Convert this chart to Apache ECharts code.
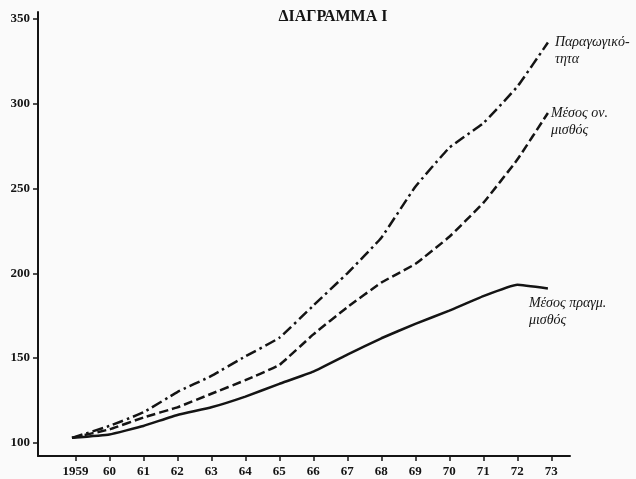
<!DOCTYPE html>
<html>
<head>
<meta charset="utf-8">
<script src="https://cdn.jsdelivr.net/npm/echarts@6/dist/echarts.min.js"></script>
<style>
  html, body { margin: 0; padding: 0; background: #fafafa; }
  #main { width: 636px; height: 479px; }
</style>
</head>
<body>
<div id="main"></div>
<script>
// data (index, 1959 ~ 103)
var years = [1958.9, 1960, 1961, 1962, 1963, 1964, 1965, 1966, 1967, 1968, 1969, 1970, 1971, 1972, 1972.9];
var productivity = [103, 110, 118, 130, 139.5, 151, 162, 181, 200, 221, 251, 274, 288.5, 310, 336];
var nominalWage = [103, 108, 115, 121, 129, 137, 146, 164, 180, 194.5, 205.5, 221.5, 241.5, 267, 294.5];
var realWage = [103, 105, 110, 116.5, 121, 127.3, 134.8, 142, 152, 161.7, 170.2, 178, 186.5, 193.2, 191];

var xTicks = [1959, 1960, 1961, 1962, 1963, 1964, 1965, 1966, 1967, 1968, 1969, 1970, 1971, 1972, 1973];
var yTicks = [100, 150, 200, 250, 300, 350];

var seriesNames = ['Παραγωγικό-\nτητα', 'Μέσος ον.\nμισθός', 'Μέσος πραγμ.\nμισθός'];

var font = '"Liberation Serif", "DejaVu Serif", serif';
var ink = '#141414';

function pairs(vals) {
  return years.map(function (y, i) { return [y, vals[i]]; });
}

var myChart = echarts.init(document.getElementById('main'));

var option = {
  backgroundColor: '#fafafa',
  animation: false,
  title: {
    text: 'ΔΙΑΓΡΑΜΜΑ Ι',
    left: 328,
    top: 4,
    textAlign: 'center',
    textStyle: { fontFamily: font, fontSize: 16, fontWeight: 'bold', color: ink }
  },
  grid: { left: 38, right: 66, top: 12, bottom: 23 },
  xAxis: {
    type: 'value',
    min: 1957.9,
    max: 1973.55,
    axisLine: { lineStyle: { color: ink, width: 2 } },
    axisTick: { show: true, customValues: xTicks, length: 5, lineStyle: { color: ink, width: 1.5 } },
    axisLabel: {
      customValues: xTicks,
      margin: 9,
      fontFamily: font,
      fontSize: 13,
      fontWeight: 'bold',
      color: ink,
      formatter: function (v) { return v === 1959 ? '1959' : String(v).slice(2); }
    },
    splitLine: { show: false }
  },
  yAxis: {
    type: 'value',
    min: 92.3,
    max: 354,
    axisLine: { show: true, lineStyle: { color: ink, width: 2 } },
    axisTick: { show: true, customValues: yTicks, length: 5, lineStyle: { color: ink, width: 1.5 } },
    axisLabel: {
      customValues: yTicks,
      margin: 8,
      fontFamily: font,
      fontSize: 13,
      fontWeight: 'bold',
      color: ink
    },
    splitLine: { show: false }
  },
  series: [
    {
      name: seriesNames[0],
      type: 'line',
      data: pairs(productivity),
      symbol: 'none',
      smooth: 0.1,
      lineStyle: { color: ink, width: 2.5, type: [11, 4, 2.5, 4] }
    },
    {
      name: seriesNames[1],
      type: 'line',
      data: pairs(nominalWage),
      symbol: 'none',
      smooth: 0.1,
      lineStyle: { color: ink, width: 2.5, type: [9, 4] }
    },
    {
      name: seriesNames[2],
      type: 'line',
      data: pairs(realWage),
      symbol: 'none',
      smooth: 0.1,
      lineStyle: { color: ink, width: 2.5, type: 'solid' }
    }
  ]
};

myChart.setOption(option);

// series names written next to the line ends
var labelOffsets = [[7, -9], [3, -8], [-19, 6]];
var lastIdx = years.length - 1;
var graphics = [];
[productivity, nominalWage, realWage].forEach(function (vals, i) {
  var p = myChart.convertToPixel({ gridIndex: 0 }, [years[lastIdx], vals[lastIdx]]);
  graphics.push({
    type: 'text',
    x: p[0] + labelOffsets[i][0],
    y: p[1] + labelOffsets[i][1],
    style: {
      text: seriesNames[i],
      font: 'italic 14px ' + font,
      lineHeight: 17,
      fill: ink
    }
  });
});
myChart.setOption({ graphic: graphics });
</script>
</body>
</html>
